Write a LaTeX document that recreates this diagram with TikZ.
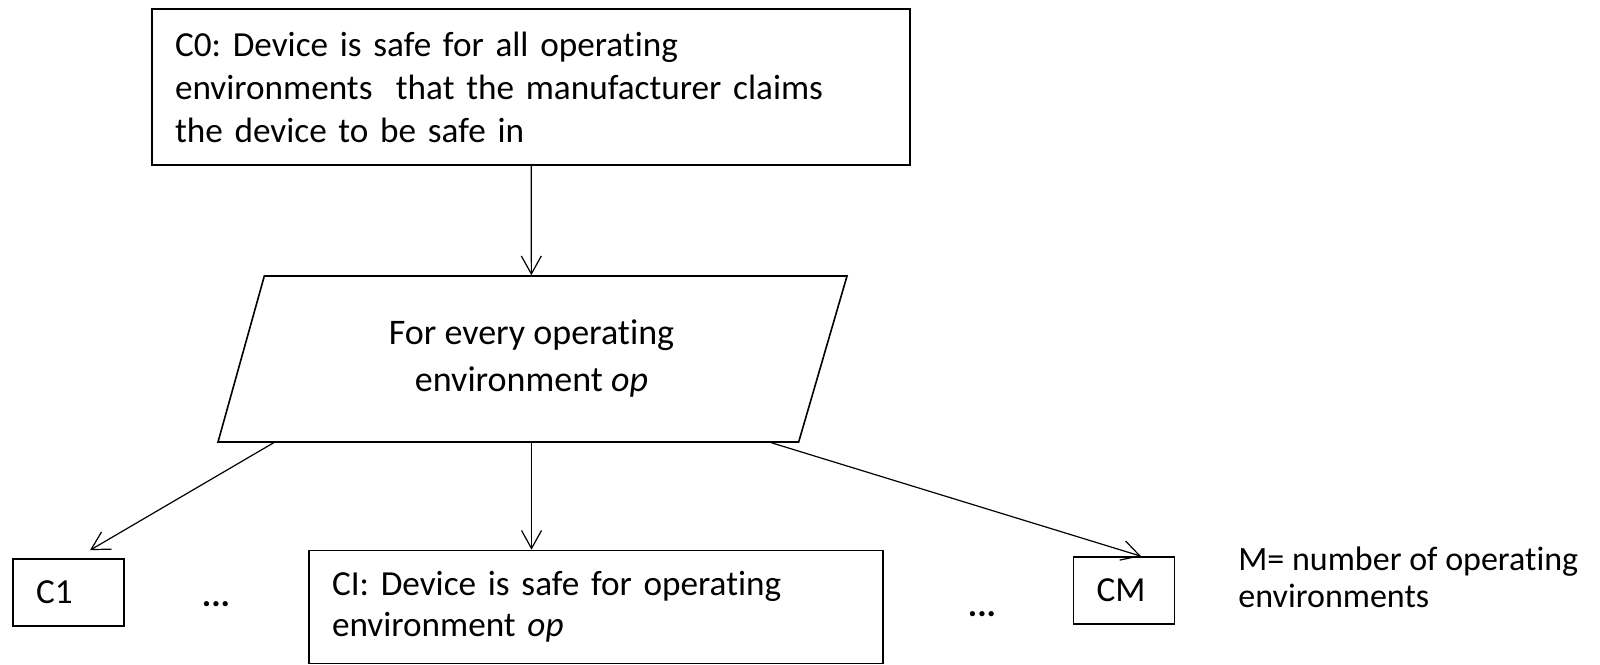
\documentclass[tikz,border=0pt]{standalone}
\usepackage{fontspec}
\setmainfont{Carlito}[Ligatures=NoCommon]
\usetikzlibrary{arrows.meta}
\usetikzlibrary{shapes}
\frenchspacing
\tikzset{
claim/.style={
  align=left,
  draw=black,
  line width=0.8pt,
  inner xsep=11.5pt,
  fill=white
  }
}
\tikzset{
strategy/.style={
  trapezium,
  trapezium left angle=63,
  trapezium right angle=118,
  trapezium stretches body,
  align=center,
  draw=black,
  line width=0.8pt,
  fill=white
  }
}
\tikzstyle{link} = [draw,line width=0.6pt,-{Straight Barb[length=9pt,width=10pt]}]

\begin{document}
\begin{tikzpicture}[x=0.5pt, y=-0.5pt, font=\fontsize{17.6}{21.5}\selectfont]
	\path[use as bounding box] (0,0) rectangle (1600,664);

	%vertices
	\node (c0) at (531,87) [claim, text width=356pt, minimum height=78pt] {C0: Device is safe for all operating\\environments\ \ that the manufacturer claims\\the device to be safe in};

	\node (forall) at (531.5,359) [strategy, minimum width=314.5pt, minimum height=83pt, font=\fontsize{18}{23.5}\selectfont] {For every operating\\environment \textit{op}};

	\node (c1) at (68.5,592.5) [claim, text width=32.5pt, minimum height=33.5pt] {C1};
	\node (ci) at (596,607) [claim, text width=264pt, minimum height=56.5pt, font=\fontsize{17.6}{20.5}\selectfont] {CI: Device is safe for operating\\environment \textit{op}};
	\node (cm) at (1124,590.5) [claim, text width=27.5pt, minimum height=33.5pt] {CM};

	\node (dotsa) at (216,604) {\textbf{...}};
	\node (dotsb) at (982,614) {\textbf{...}};

	\node (mnote) at (1238,577) [anchor=west, align=left, inner sep=0pt, font=\fontsize{17}{18.5}\selectfont] {M= number of operating\\environments};

	%edges
	\draw (c0) edge[link] (forall);

	\draw ([xshift=-129pt]forall.south) edge[link] ([xshift=10.75pt,yshift=4pt]c1.north);
	\draw (forall.south) edge[link] (forall.south |- ci.north);
	\draw ([xshift=120pt]forall.south) edge[link] ([xshift=8.5pt]cm.north);
\end{tikzpicture}
\end{document}
